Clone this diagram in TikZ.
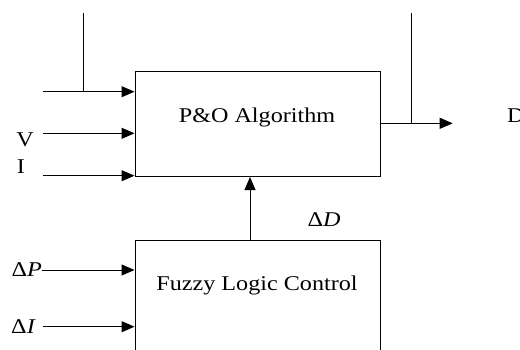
\documentclass[tikz,border=0pt]{standalone}
\usepackage{fontspec}
\setmainfont{Liberation Serif}
\usetikzlibrary{arrows.meta}
\tikzset{
  blk/.style={draw, line width=1pt, inner sep=0pt, minimum width=245pt},
  arr/.style={line width=1pt, -{Triangle[length=13pt,width=11pt]}},
  ln/.style={line width=1pt},
  lbl/.style={inner sep=0pt, font=\fontsize{21}{24}\selectfont},
}
\newcommand{\wide}[1]{\scalebox{1.15}[1]{#1}}
\begin{document}
\begin{tikzpicture}[x=1pt,y=-1pt]
\useasboundingbox (0,0) rectangle (520,349);
\clip (0,0) rectangle (520,349);
% blocks
\node[blk, minimum height=105.5pt] (po) at (257.5,123.8) {};
\node[blk, minimum height=160pt] (fz) at (257.5,320.7) {};
\node[lbl] (pot) at (257,117) {\wide{P\&O Algorithm}};
\node[lbl] (fzt) at (257,285) {\wide{Fuzzy Logic Control}};
% inputs to P&O
\coordinate (in1) at (43,91.7);
\coordinate (in2) at (43,133.3);
\coordinate (in3) at (43,175.7);
\coordinate (t1) at (83.3,13);
\draw[arr] (in1) -- (in1 -| po.west);
\draw[arr] (in2) -- (in2 -| po.west);
\draw[arr] (in3) -- (in3 -| po.west);
\draw[ln] (t1) -- (t1 |- in1);
\node[lbl] (v) at (25,140) {\wide{V}};
\node[lbl] (i) at (21,167) {\wide{I}};
% output
\coordinate (out) at (452.7,123.3);
\coordinate (t2) at (411,13);
\draw[arr] (out -| po.east) -- (out);
\draw[ln] (t2) -- (t2 |- out);
\node[lbl, anchor=west] (d) at (507,116) {\wide{D}};
% fuzzy to P&O
\coordinate (c) at (250,0);
\draw[arr] (c |- fz.north) -- (c |- po.south);
\node[lbl] (dd) at (324,220) {\wide{Δ\textit{D}}};
% fuzzy inputs
\node[lbl, anchor=east] (dp) at (42,270) {\wide{Δ\textit{P}}};
\draw[arr] (dp.east) -- (dp.east -| fz.west);
\node[lbl] (di) at (23.5,327) {\wide{Δ\textit{I}}};
\coordinate (diin) at (43,326.7);
\draw[arr] (diin) -- (diin -| fz.west);
\end{tikzpicture}
\end{document}
